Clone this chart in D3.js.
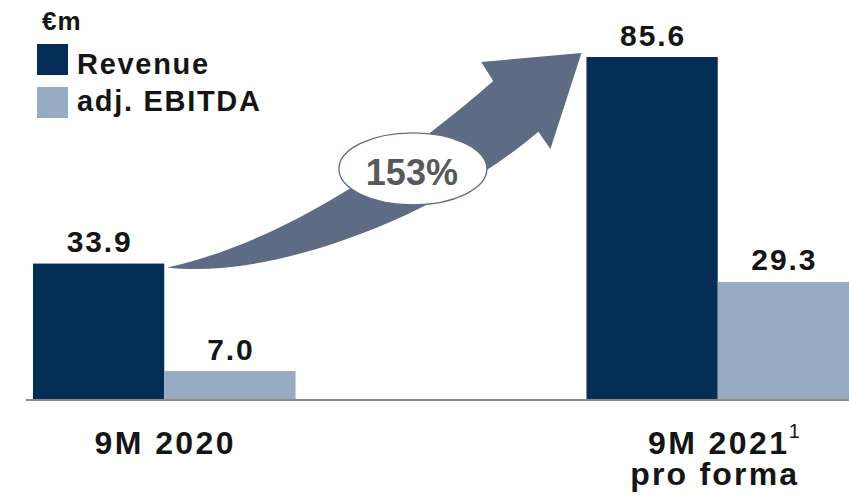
<!DOCTYPE html>
<html>
<head>
<meta charset="utf-8">
<script src="https://cdn.jsdelivr.net/npm/d3@7"></script>
<style>
  html, body { margin: 0; padding: 0; background: #fff; }
  svg { display: block; }
  text { font-family: "Liberation Sans", Arial, sans-serif; }
</style>
</head>
<body>
<svg id="chart" width="849" height="496"></svg>
<script>
// ---- data ----
const categories = ["9M 2020", "9M 2021"];
const categorySub = ["", "pro forma"];
const categoryNote = ["", "1"];
const series = ["Revenue", "adj. EBITDA"];
const revenue = [33.9, 85.6];
const ebitda = [7.0, 29.3];
const unitLabel = "€m";

// ---- setup ----
const W = 849, H = 496;
const colors = { "Revenue": "#052e56", "adj. EBITDA": "#97acc2" };
const arrowColor = "#5d6c84";
const valuesBySeries = { "Revenue": revenue, "adj. EBITDA": ebitda };

const svg = d3.select("#chart");

const x0 = d3.scaleBand().domain(categories).range([33, 849]).paddingInner(0.5257).paddingOuter(0);
const x1 = d3.scaleBand().domain(series).range([0, x0.bandwidth()]).padding(0);
const y = d3.scaleLinear().domain([0, d3.max(revenue.concat(ebitda))]).range([399, 57]);

const fmt = d3.format(".1f");

// ---- bars ----
const data = [];
categories.forEach((c, i) => series.forEach(s => data.push({ cat: c, s, v: valuesBySeries[s][i] })));

svg.append("g").selectAll("rect").data(data).join("rect")
  .attr("x", d => x0(d.cat) + x1(d.s))
  .attr("y", d => y(d.v))
  .attr("width", x1.bandwidth())
  .attr("height", d => y(0) - y(d.v))
  .attr("fill", d => colors[d.s]);

// value labels
svg.append("g").selectAll("text").data(data).join("text")
  .attr("x", d => x0(d.cat) + x1(d.s) + x1.bandwidth() / 2 + 1)
  .attr("y", d => y(d.v) - 11.5)
  .attr("text-anchor", "middle")
  .attr("font-size", 30)
  .attr("font-weight", 700)
  .attr("letter-spacing", 1.9)
  .attr("fill", "#151515")
  .text(d => fmt(d.v));

// ---- baseline + category axis ----
svg.append("line")
  .attr("x1", 26).attr("x2", W)
  .attr("y1", y(0) + 1).attr("y2", y(0) + 1)
  .attr("stroke", "#8c8c8c").attr("stroke-width", 2);

const axis = svg.append("g")
  .attr("transform", `translate(0,${y(0)})`)
  .call(d3.axisBottom(x0).tickSize(0).tickPadding(0));
axis.select(".domain").remove();
axis.selectAll(".tick text")
  .attr("x", 1)
  .attr("y", 55)
  .attr("dy", 0)
  .attr("font-family", "'Liberation Sans', Arial, sans-serif")
  .attr("font-size", 32)
  .attr("font-weight", 700)
  .attr("letter-spacing", 2.4)
  .attr("fill", "#151515")
  .each(function (d, i) {
    const tick = d3.select(this.parentNode);
    const w = this.getComputedTextLength();
    if (categoryNote[i]) {
      tick.append("text")
        .attr("x", w / 2 + 6)
        .attr("y", 39)
        .attr("font-size", 20)
        .attr("font-weight", 400)
        .attr("fill", "#151515")
        .text(categoryNote[i]);
    }
    if (categorySub[i]) {
      tick.append("text")
        .attr("x", -3)
        .attr("y", 86)
        .attr("text-anchor", "middle")
        .attr("font-size", 32)
        .attr("font-weight", 700)
        .attr("letter-spacing", 2.2)
        .attr("fill", "#151515")
        .text(categorySub[i]);
    }
  });

// ---- legend ----
svg.append("text")
  .attr("x", 42).attr("y", 30)
  .attr("font-family", "'DejaVu Sans', sans-serif")
  .attr("font-size", 26)
  .attr("font-weight", 700)
  .attr("letter-spacing", 1)
  .attr("fill", "#151515")
  .text(unitLabel);

const legend = svg.append("g").selectAll("g").data(series).join("g");
legend.append("rect")
  .attr("x", 37).attr("y", (d, i) => 44 + i * 43)
  .attr("width", 31).attr("height", 31)
  .attr("fill", d => colors[d]);
legend.append("text")
  .attr("x", 77).attr("y", (d, i) => 74 + i * 37)
  .attr("font-size", 29)
  .attr("font-weight", 700)
  .attr("letter-spacing", 1.7)
  .attr("fill", "#151515")
  .text(d => d);

// ---- growth arrow ----
const T = [x0(categories[0]) + x1("Revenue") + x1.bandwidth() + 3, y(revenue[0]) + 4];
const Hd = [x0(categories[1]) + x1("Revenue") - 5, y(revenue[1]) - 4];
const P = (u, v) => [T[0] + u * (Hd[0] - T[0]), T[1] + v * (Hd[1] - T[1])];

const pts = {
  tip: P(1, 1),
  ubOut: P(0.758, 0.958),
  ubIn: P(0.787, 0.870),
  uc1: P(0.513, 0.409),
  uc2: P(0.247, 0.107),
  tail: P(0, 0),
  lc1: P(0.247, -0.056),
  lc2: P(0.646, 0.223),
  lbIn: P(0.896, 0.633),
  lbOut: P(0.925, 0.553)
};
const ap = d3.path();
ap.moveTo(...pts.tip);
ap.lineTo(...pts.ubOut);
ap.lineTo(...pts.ubIn);
ap.bezierCurveTo(...pts.uc1, ...pts.uc2, ...pts.tail);
ap.bezierCurveTo(...pts.lc1, ...pts.lc2, ...pts.lbIn);
ap.lineTo(...pts.lbOut);
ap.closePath();
svg.append("path").attr("d", ap.toString()).attr("fill", arrowColor);

const ec = P(0.593, 0.460);
svg.append("ellipse")
  .attr("cx", ec[0]).attr("cy", ec[1])
  .attr("rx", 74).attr("ry", 36)
  .attr("fill", "#fff")
  .attr("stroke", arrowColor).attr("stroke-width", 1.3);

const growth = revenue[1] / revenue[0] - 1;
svg.append("text")
  .attr("x", ec[0] - 1).attr("y", ec[1] + 16)
  .attr("text-anchor", "middle")
  .attr("font-size", 36)
  .attr("font-weight", 700)
  .attr("fill", "#58595b")
  .text(d3.format(".0%")(growth));
</script>
</body>
</html>
